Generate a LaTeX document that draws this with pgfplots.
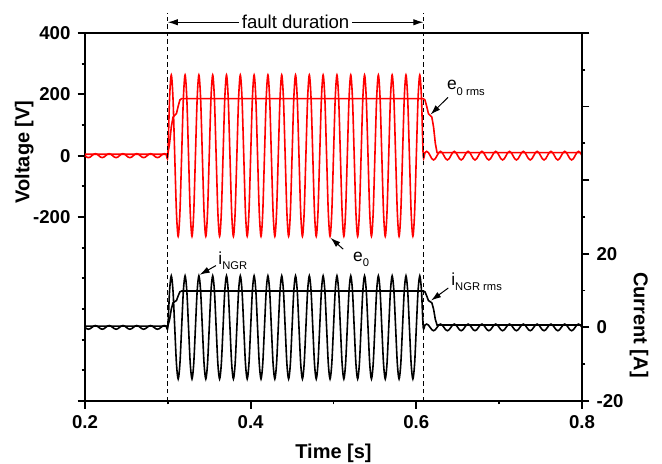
\documentclass[border=0pt]{standalone}
\usepackage{fontspec}
\setmainfont{Liberation Sans}
\usepackage{pgfplots}
\usepackage{pgfplotstable}
\pgfplotsset{compat=1.18}
\usetikzlibrary{arrows.meta}

% sampled waveforms: time, e0 [V], iNGR [A]
\pgfplotstableread{
t e0 i
0.2 0 0
0.20208 -4.6 -0.35
0.20417 -6.5 -0.5
0.20625 -4.6 -0.35
0.20833 0 0
0.21042 4.6 0.35
0.2125 6.5 0.5
0.21458 4.6 0.35
0.21667 0 0
0.21875 -4.6 -0.35
0.22083 -6.5 -0.5
0.22292 -4.6 -0.35
0.225 0 0
0.22708 4.6 0.35
0.22917 6.5 0.5
0.23125 4.6 0.35
0.23333 0 0
0.23542 -4.6 -0.35
0.2375 -6.5 -0.5
0.23958 -4.6 -0.35
0.24167 0 0
0.24375 4.6 0.35
0.24583 6.5 0.5
0.24792 4.6 0.35
0.25 0 0
0.25208 -4.6 -0.35
0.25417 -6.5 -0.5
0.25625 -4.6 -0.35
0.25833 0 0
0.26042 4.6 0.35
0.2625 6.5 0.5
0.26458 4.6 0.35
0.26667 0 0
0.26875 -4.6 -0.35
0.27083 -6.5 -0.5
0.27292 -4.6 -0.35
0.275 0 0
0.27708 4.6 0.35
0.27917 6.5 0.5
0.28125 4.6 0.35
0.28333 0 0
0.28542 -4.6 -0.35
0.2875 -6.5 -0.5
0.28958 -4.6 -0.35
0.29167 0 0
0.29375 4.6 0.35
0.29583 6.5 0.5
0.29792 4.6 0.35
0.3 0 0
0.30208 186 9.9
0.30417 263 14
0.30625 186 9.9
0.30833 0 0
0.31042 -186 -9.9
0.3125 -263 -14
0.31458 -186 -9.9
0.31667 0 0
0.31875 186 9.9
0.32083 263 14
0.32292 186 9.9
0.325 0 0
0.32708 -186 -9.9
0.32917 -263 -14
0.33125 -186 -9.9
0.33333 0 0
0.33542 186 9.9
0.3375 263 14
0.33958 186 9.9
0.34167 0 0
0.34375 -186 -9.9
0.34583 -263 -14
0.34792 -186 -9.9
0.35 0 0
0.35208 186 9.9
0.35417 263 14
0.35625 186 9.9
0.35833 0 0
0.36042 -186 -9.9
0.3625 -263 -14
0.36458 -186 -9.9
0.36667 0 0
0.36875 186 9.9
0.37083 263 14
0.37292 186 9.9
0.375 0 0
0.37708 -186 -9.9
0.37917 -263 -14
0.38125 -186 -9.9
0.38333 0 0
0.38542 186 9.9
0.3875 263 14
0.38958 186 9.9
0.39167 0 0
0.39375 -186 -9.9
0.39583 -263 -14
0.39792 -186 -9.9
0.4 0 0
0.40208 186 9.9
0.40417 263 14
0.40625 186 9.9
0.40833 0 0
0.41042 -186 -9.9
0.4125 -263 -14
0.41458 -186 -9.9
0.41667 0 0
0.41875 186 9.9
0.42083 263 14
0.42292 186 9.9
0.425 0 0
0.42708 -186 -9.9
0.42917 -263 -14
0.43125 -186 -9.9
0.43333 0 0
0.43542 186 9.9
0.4375 263 14
0.43958 186 9.9
0.44167 0 0
0.44375 -186 -9.9
0.44583 -263 -14
0.44792 -186 -9.9
0.45 0 0
0.45208 186 9.9
0.45417 263 14
0.45625 186 9.9
0.45833 0 0
0.46042 -186 -9.9
0.4625 -263 -14
0.46458 -186 -9.9
0.46667 0 0
0.46875 186 9.9
0.47083 263 14
0.47292 186 9.9
0.475 0 0
0.47708 -186 -9.9
0.47917 -263 -14
0.48125 -186 -9.9
0.48333 0 0
0.48542 186 9.9
0.4875 263 14
0.48958 186 9.9
0.49167 0 0
0.49375 -186 -9.9
0.49583 -263 -14
0.49792 -186 -9.9
0.5 0 0
0.50208 186 9.9
0.50417 263 14
0.50625 186 9.9
0.50833 0 0
0.51042 -186 -9.9
0.5125 -263 -14
0.51458 -186 -9.9
0.51667 0 0
0.51875 186 9.9
0.52083 263 14
0.52292 186 9.9
0.525 0 0
0.52708 -186 -9.9
0.52917 -263 -14
0.53125 -186 -9.9
0.53333 0 0
0.53542 186 9.9
0.5375 263 14
0.53958 186 9.9
0.54167 0 0
0.54375 -186 -9.9
0.54583 -263 -14
0.54792 -186 -9.9
0.55 0 0
0.55208 186 9.9
0.55417 263 14
0.55625 186 9.9
0.55833 0 0
0.56042 -186 -9.9
0.5625 -263 -14
0.56458 -186 -9.9
0.56667 0 0
0.56875 186 9.9
0.57083 263 14
0.57292 186 9.9
0.575 0 0
0.57708 -186 -9.9
0.57917 -263 -14
0.58125 -186 -9.9
0.58333 0 0
0.58542 186 9.9
0.5875 263 14
0.58958 186 9.9
0.59167 0 0
0.59375 -186 -9.9
0.59583 -263 -14
0.59792 -186 -9.9
0.6 0 0
0.60208 186 9.9
0.60417 263 14
0.60625 186 9.9
0.60833 0 0
0.61042 9.9 0.64
0.6125 14 0.9
0.61458 9.9 0.64
0.61667 0 0
0.61875 -9.9 -0.64
0.62083 -14 -0.9
0.62292 -9.9 -0.64
0.625 0 0
0.62708 9.9 0.64
0.62917 14 0.9
0.63125 9.9 0.64
0.63333 0 0
0.63542 -9.9 -0.64
0.6375 -14 -0.9
0.63958 -9.9 -0.64
0.64167 0 0
0.64375 9.9 0.64
0.64583 14 0.9
0.64792 9.9 0.64
0.65 0 0
0.65208 -9.9 -0.64
0.65417 -14 -0.9
0.65625 -9.9 -0.64
0.65833 0 0
0.66042 9.9 0.64
0.6625 14 0.9
0.66458 9.9 0.64
0.66667 0 0
0.66875 -9.9 -0.64
0.67083 -14 -0.9
0.67292 -9.9 -0.64
0.675 0 0
0.67708 9.9 0.64
0.67917 14 0.9
0.68125 9.9 0.64
0.68333 0 0
0.68542 -9.9 -0.64
0.6875 -14 -0.9
0.68958 -9.9 -0.64
0.69167 0 0
0.69375 9.9 0.64
0.69583 14 0.9
0.69792 9.9 0.64
0.7 0 0
0.70208 -9.9 -0.64
0.70417 -14 -0.9
0.70625 -9.9 -0.64
0.70833 0 0
0.71042 9.9 0.64
0.7125 14 0.9
0.71458 9.9 0.64
0.71667 0 0
0.71875 -9.9 -0.64
0.72083 -14 -0.9
0.72292 -9.9 -0.64
0.725 0 0
0.72708 9.9 0.64
0.72917 14 0.9
0.73125 9.9 0.64
0.73333 0 0
0.73542 -9.9 -0.64
0.7375 -14 -0.9
0.73958 -9.9 -0.64
0.74167 0 0
0.74375 9.9 0.64
0.74583 14 0.9
0.74792 9.9 0.64
0.75 0 0
0.75208 -9.9 -0.64
0.75417 -14 -0.9
0.75625 -9.9 -0.64
0.75833 0 0
0.76042 9.9 0.64
0.7625 14 0.9
0.76458 9.9 0.64
0.76667 0 0
0.76875 -9.9 -0.64
0.77083 -14 -0.9
0.77292 -9.9 -0.64
0.775 0 0
0.77708 9.9 0.64
0.77917 14 0.9
0.78125 9.9 0.64
0.78333 0 0
0.78542 -9.9 -0.64
0.7875 -14 -0.9
0.78958 -9.9 -0.64
0.79167 0 0
0.79375 9.9 0.64
0.79583 14 0.9
0.79792 9.9 0.64
0.8 0 0
}\wave

% one-cycle rms values
\pgfplotstableread{
t erms irms
0.2 4.6 0.35
0.3 4.6 0.35
0.30208 39.6 2.11
0.30417 93.0 4.95
0.30625 125.4 6.68
0.30833 131.5 7.0
0.31042 137.3 7.31
0.3125 161.1 8.57
0.31458 181.7 9.67
0.31667 186.0 9.9
0.60833 186.0 9.9
0.61042 181.7 9.67
0.6125 161.1 8.57
0.61458 137.3 7.31
0.61667 131.5 7.0
0.61875 125.4 6.68
0.62083 93.0 4.95
0.62292 40.5 2.2
0.625 10 0.64
0.8 10 0.64
}\rms

\newcommand{\lab}[2]{{\fontsize{8.7}{10}\selectfont #1\raisebox{-2.8pt}{\fontsize{5.6}{6}\selectfont #2}}}

\tikzset{arr/.style={-{Latex[length=5pt,width=3.2pt]}, line width=0.5pt}}

\pgfplotsset{
  base/.style={
    scale only axis,
    width=248.5pt, height=184pt,
    xmin=0.2, xmax=0.8,
    tick align=outside,
    major tick length=3.75pt,
    minor tick length=1.7pt,
    axis line style={line width=0.9pt},
    tick style={line width=0.9pt, black},
    tick label style={font=\fontsize{9.3}{11}\selectfont\bfseries},
    label style={font=\fontsize{10}{12}\selectfont\bfseries},
    clip=false,
  },
}

\begin{document}
\begin{tikzpicture}
\useasboundingbox (-42.5pt,-31.5pt) rectangle (288.5pt,200.5pt);

\begin{axis}[
    base,
    ymin=-800, ymax=400,
    xtick={0.2,0.4,0.6,0.8},
    xticklabels={0.2,0.4,0.6,0.8},
    minor xtick={0.3,0.5,0.7},
    ytick={-800,-200,0,200,400},
    yticklabels={,-200,0,200,400},
    minor ytick={-700,-600,-500,-400,-300,-100,100,300},
    xtick pos=left, ytick pos=left,
    xlabel={Time [s]},
    ylabel={Voltage [V]},
    xlabel style={at={(axis description cs:0.5,-0.141)}, anchor=center},
    ylabel style={at={(axis description cs:-0.122,0.677)}, anchor=center},
]
\addplot[red, line width=0.8pt, smooth] table[x=t, y=e0] {\wave};
\addplot[red, line width=0.8pt] table[x=t, y=erms] {\rms};

\draw[dash pattern=on 2.2pt off 1.6pt, line width=0.5pt] (axis cs:0.3,-800) -- (axis cs:0.3,465);
\draw[dash pattern=on 2.2pt off 1.6pt, line width=0.5pt] (axis cs:0.6085,-800) -- (axis cs:0.6085,465);
\draw[{Latex[length=5pt,width=3.2pt]}-{Latex[length=5pt,width=3.2pt]}, line width=0.5pt]
    (axis cs:0.3,435) -- (axis cs:0.6085,435)
    node[midway, fill=white, inner xsep=1.5pt, inner ysep=0pt, font=\fontsize{9.3}{11}\selectfont] {fault duration};

\draw[arr] (axis cs:0.6382,190) -- (axis cs:0.6172,134);
\node[anchor=base west, inner sep=0pt] at (axis cs:0.6366,215) {\lab{e}{0 rms}};

\draw[arr] (axis cs:0.5118,-305) -- (axis cs:0.4965,-268);
\node[anchor=base west, inner sep=0pt] at (axis cs:0.5232,-344) {\lab{e}{0}};
\end{axis}

\begin{axis}[
    base,
    axis y line*=right, axis x line=none,
    ymin=-20, ymax=80,
    ytick={-20,0,20,40,60,80},
    yticklabels={-20,0,20,,,},
    minor ytick={-10,10,30,50,70},
    ylabel={Current [A]},
    ylabel style={at={(axis description cs:1.1147,0.2065)}, anchor=center, rotate=180},
]
\addplot[black, line width=0.8pt, smooth] table[x=t, y=i] {\wave};
\addplot[black, line width=0.8pt] table[x=t, y=irms] {\rms};

\draw[arr] (axis cs:0.3581,16.8) -- (axis cs:0.3385,14.3);
\node[anchor=base west, inner sep=0pt] at (axis cs:0.3606,17.2) {\lab{i}{NGR}};

\draw[arr] (axis cs:0.6386,10.7) -- (axis cs:0.6178,7.3);
\node[anchor=base west, inner sep=0pt] at (axis cs:0.6418,11.5) {\lab{i}{NGR rms}};
\end{axis}
\end{tikzpicture}
\end{document}
